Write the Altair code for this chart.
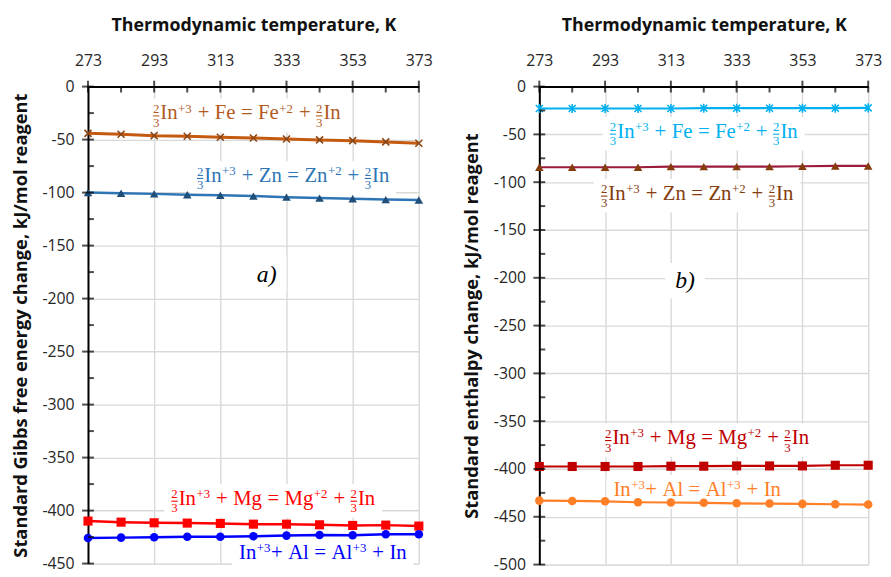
import altair as alt
import pandas as pd

# ---------------- data ----------------
temps = [273, 283, 293, 303, 313, 323, 333, 343, 353, 363, 373]

gibbs_fe = [-44.1, -45.0, -46.3, -46.9, -47.8, -48.5, -49.4, -50.3, -51.0, -52.2, -53.4]
gibbs_zn = [-100.0, -100.6, -101.2, -102.0, -102.5, -103.3, -104.3, -105.2, -105.8, -106.6, -107.0]
gibbs_mg = [-409.9, -410.9, -411.5, -411.8, -412.1, -412.8, -412.8, -413.4, -414.0, -413.7, -414.6]
gibbs_al = [-425.8, -425.5, -425.1, -424.6, -424.6, -424.2, -423.6, -423.0, -423.3, -422.3, -422.3]

enth_fe = [-22.9, -22.9, -22.9, -22.9, -22.9, -22.6, -22.6, -22.6, -22.6, -22.6, -22.3]
enth_zn = [-84.4, -84.4, -84.4, -84.4, -83.7, -83.7, -83.7, -83.7, -83.3, -83.0, -83.0]
enth_mg = [-397.4, -397.4, -397.4, -397.4, -397.1, -397.1, -396.8, -396.8, -396.8, -396.1, -396.1]
enth_al = [-433.1, -433.4, -433.8, -434.8, -435.1, -435.4, -435.9, -436.2, -436.5, -436.9, -437.2]

# equation tokens: "/" = stacked 2/3 fraction, "^.." = superscript, "_" = operator space
eq_fe = ["/", "In", "^+3", "_", "+", "_", "Fe", "_", "=", "_", "Fe", "^+2", "_", "+", "_", "/", "In"]
eq_zn = ["/", "In", "^+3", "_", "+", "_", "Zn", "_", "=", "_", "Zn", "^+2", "_", "+", "_", "/", "In"]
eq_mg = ["/", "In", "^+3", "_", "+", "_", "Mg", "_", "=", "_", "Mg", "^+2", "_", "+", "_", "/", "In"]
eq_al = ["In", "^+3", "+", "_", "Al", "_", "=", "_", "Al", "^+3", "_", "+", "_", "In"]
frac_num, frac_den = "2", "3"

x_title = "Thermodynamic temperature, K"
y_title_a = "Standard Gibbs free energy change, kJ/mol reagent"
y_title_b = "Standard enthalpy change, kJ/mol reagent"

x_major = [273, 293, 313, 333, 353, 373]
x_minor = [283, 303, 323, 343, 363]

# ---------------- styling ----------------
AXIS_FONT = "Open Sans"
EQ_FONT = "Liberation Serif"
GRID = "#D9D9D9"
MAIN = 21     # equation main font size
SMALL = 13    # superscript / fraction digit size
GAP = 5.5     # operator spacing

XSHAPE = "M-1,-1L1,1M-1,1L1,-1"
ASTER = "M-1,-1L1,1M-1,1L1,-1M0,-1.3L0,1.3"

# Times / Liberation Serif advance widths (per 1000 em)
ADV = {"I": 333, "n": 500, "F": 556, "e": 444, "Z": 611, "M": 889, "g": 500,
       "A": 722, "l": 278, "+": 564, "=": 564, "2": 500, "3": 500, " ": 250}


def tw(s, size):
    return sum(ADV.get(c, 500) for c in s) * size / 1000.0


def layout_tokens(tokens):
    """Return list of (kind, text, size, dx, dy, w) with dx from the left edge, and total width."""
    out, pos = [], 0.0
    for t in tokens:
        if t == "_":
            pos += GAP
        elif t == "/":
            w = tw(frac_num, SMALL)
            out.append(("frac", frac_num + "\n" + frac_den, SMALL, pos, -6.5, w))
            pos += w + 1.0
        elif t.startswith("^"):
            s = t[1:]
            out.append(("text", s, SMALL, pos + 0.5, -7.0, 0))
            pos += tw(s, SMALL) + 1.0
        else:
            out.append(("text", t, MAIN, pos, 0.0, 0))
            pos += tw(t, MAIN)
    return out, pos


def box_path(w, h):
    r = h / w
    return f"M-1,{-r:.3f}H1V{r:.3f}H-1Z"


def panel(series, labels, letter, ymin, ytitle, height, width):
    xs = alt.Scale(domain=[273, 373], nice=False, zero=False)
    ys = alt.Scale(domain=[ymin, 0], nice=False, zero=False)
    y_major = list(range(0, ymin - 1, -50))
    y_minor = list(range(-25, ymin, -50))

    xaxis = alt.Axis(orient="top", values=x_major, title=x_title, labelFlush=False,
                     labelFont=AXIS_FONT, labelFontSize=16, labelColor="#262626",
                     labelPadding=18, titleFont=AXIS_FONT, titleFontSize=18,
                     titleFontWeight="bold", titleColor="#111", titlePadding=19,
                     domainColor="black", domainWidth=2, ticks=False,
                     gridColor=GRID, gridWidth=1.4)
    yaxis = alt.Axis(values=y_major, title=ytitle, labelExpr="datum.value + ''",
                     labelFont=AXIS_FONT, labelFontSize=16, labelColor="#262626",
                     labelPadding=14, titleFont=AXIS_FONT, titleFontSize=18.5,
                     titleFontWeight="bold", titleColor="#111", titlePadding=12,
                     domainColor="black", domainWidth=2, ticks=False,
                     gridColor=GRID, gridWidth=1.4)

    base_df = pd.DataFrame({"T": [273], "v": [0]})
    layers = [alt.Chart(base_df).mark_point(opacity=0).encode(
        x=alt.X("T:Q", scale=xs, axis=xaxis),
        y=alt.Y("v:Q", scale=ys, axis=yaxis))]

    # white label boxes
    laid = []
    for lab in labels:
        toks, total = layout_tokens(lab["tokens"])
        laid.append((lab, toks, total))
    box_df = pd.DataFrame({
        "x": [l["x"] for l, _, _ in laid] + [letter["x"]],
        "y": [l["y"] for l, _, _ in laid] + [letter["y"]],
        "shape": [box_path(t + 14, 34) for _, _, t in laid] + [box_path(40, 36)],
        "size": [(t + 14) ** 2 for _, _, t in laid] + [40 ** 2],
        "off": [-4] * len(laid) + [0],
    })
    for off in sorted(set(box_df["off"])):
        layers.append(alt.Chart(box_df[box_df["off"] == off]).mark_point(
            filled=True, opacity=1, strokeWidth=0, yOffset=float(off)).encode(
            x=alt.X("x:Q", scale=xs), y=alt.Y("y:Q", scale=ys),
            shape=alt.Shape("shape:N", scale=None),
            size=alt.Size("size:Q", scale=None),
            color=alt.value("white")))

    # series
    for s in series:
        df = pd.DataFrame({"T": temps, "v": s["values"]})
        layers.append(alt.Chart(df).mark_line(color=s["line"], strokeWidth=s["lw"]).encode(
            x=alt.X("T:Q", scale=xs), y=alt.Y("v:Q", scale=ys)))
        if s["stroke"]:
            pm = alt.Chart(df).mark_point(shape=s["shape"], filled=False, color=s["marker"],
                                          size=s["size"], strokeWidth=1.6, opacity=1)
        else:
            pm = alt.Chart(df).mark_point(shape=s["shape"], filled=True, color=s["marker"],
                                          size=s["size"], opacity=1)
        layers.append(pm.encode(x=alt.X("T:Q", scale=xs), y=alt.Y("v:Q", scale=ys)))

    # crossing tick marks (Excel style)
    xt = pd.DataFrame({"t": x_major})
    xm = pd.DataFrame({"t": x_minor})
    yt = pd.DataFrame({"t": y_major})
    ym = pd.DataFrame({"t": y_minor})
    layers.append(alt.Chart(xt).mark_tick(orient="vertical", size=12, thickness=2, color="black").encode(
        x=alt.X("t:Q", scale=xs), y=alt.datum(0, scale=ys)))
    layers.append(alt.Chart(xm).mark_tick(orient="vertical", size=6, thickness=2, color="black",
                                          yOffset=3).encode(
        x=alt.X("t:Q", scale=xs), y=alt.datum(0, scale=ys)))
    layers.append(alt.Chart(yt).mark_tick(orient="horizontal", size=12, thickness=2, color="black").encode(
        y=alt.Y("t:Q", scale=ys), x=alt.datum(273, scale=xs)))
    layers.append(alt.Chart(ym).mark_tick(orient="horizontal", size=6, thickness=2, color="black",
                                          xOffset=3).encode(
        y=alt.Y("t:Q", scale=ys), x=alt.datum(273, scale=xs)))

    # equation labels, token by token
    for lab, toks, total in laid:
        ldf = pd.DataFrame({"x": [lab["x"]], "y": [lab["y"]]})
        for kind, text, size, dx, dy, w in toks:
            left_dx = round(dx - total / 2.0, 2)
            if kind == "frac":
                layers.append(alt.Chart(ldf).mark_text(
                    font=EQ_FONT, fontSize=size, align="left", baseline="alphabetic",
                    lineBreak="\n", lineHeight=14, dx=left_dx, dy=dy, text=text,
                    color=lab["color"]).encode(
                    x=alt.X("x:Q", scale=xs), y=alt.Y("y:Q", scale=ys)))
                layers.append(alt.Chart(ldf).mark_tick(
                    orient="horizontal", size=w, thickness=1.1, color=lab["color"], opacity=1,
                    xOffset=round(left_dx + w / 2.0, 2), yOffset=-3.6).encode(
                    x=alt.X("x:Q", scale=xs), y=alt.Y("y:Q", scale=ys)))
            else:
                layers.append(alt.Chart(ldf).mark_text(
                    font=EQ_FONT, fontSize=size, align="left", baseline="alphabetic",
                    dx=left_dx, dy=dy, text=text, color=lab["color"]).encode(
                    x=alt.X("x:Q", scale=xs), y=alt.Y("y:Q", scale=ys)))

    # panel letter
    let_df = pd.DataFrame([letter])
    layers.append(alt.Chart(let_df).mark_text(font=EQ_FONT, fontSize=24, fontStyle="italic",
                                              baseline="middle").encode(
        x=alt.X("x:Q", scale=xs), y=alt.Y("y:Q", scale=ys), text="text:N",
        color=alt.value("black")))

    return alt.layer(*layers).properties(width=width, height=height)


left_series = [
    dict(values=gibbs_fe, line="#C55A11", marker="#8B4513", shape=XSHAPE, stroke=True, size=50, lw=3),
    dict(values=gibbs_zn, line="#2E75B6", marker="#1F4E79", shape="triangle-up", stroke=False, size=75, lw=2.5),
    dict(values=gibbs_mg, line="#FF0000", marker="#FF0000", shape="square", stroke=False, size=85, lw=2.5),
    dict(values=gibbs_al, line="#0000FF", marker="#0000FF", shape="circle", stroke=False, size=75, lw=2.5),
]
left_labels = [
    dict(x=321, y=-31, tokens=eq_fe, color="#B35A1F"),
    dict(x=335, y=-90, tokens=eq_zn, color="#2E75B6"),
    dict(x=329, y=-394.5, tokens=eq_mg, color="#FF0000"),
    dict(x=344, y=-445.5, tokens=eq_al, color="#0000FF"),
]
left_letter = dict(x=327, y=-178, text="a)")

right_series = [
    dict(values=enth_fe, line="#00B0F0", marker="#00B0F0", shape=ASTER, stroke=True, size=50, lw=2.2),
    dict(values=enth_zn, line="#9B1B3A", marker="#843C0C", shape="triangle-up", stroke=False, size=75, lw=2.2),
    dict(values=enth_mg, line="#C00000", marker="#C00000", shape="square", stroke=False, size=85, lw=2.2),
    dict(values=enth_al, line="#FF7F27", marker="#FF7F27", shape="circle", stroke=False, size=75, lw=2.2),
]
right_labels = [
    dict(x=323, y=-53.5, tokens=eq_fe, color="#00B0F0"),
    dict(x=321, y=-118.3, tokens=eq_zn, color="#843C0C"),
    dict(x=324, y=-374, tokens=eq_mg, color="#C00000"),
    dict(x=321, y=-428, tokens=eq_al, color="#FF7F27"),
]
right_letter = dict(x=317.3, y=-203, text="b)")

left = panel(left_series, left_labels, left_letter, -450, y_title_a, 483, 335)
right = panel(right_series, right_labels, right_letter, -500, y_title_b, 484, 333)

chart = alt.hconcat(left, right, spacing=122, bounds="flush").configure_view(
    stroke=None).configure(background="white",
                           padding={"top": 4, "left": 2, "right": 0, "bottom": 0})

chart.save("out.html", embed_options={"renderer": "svg", "actions": False})
